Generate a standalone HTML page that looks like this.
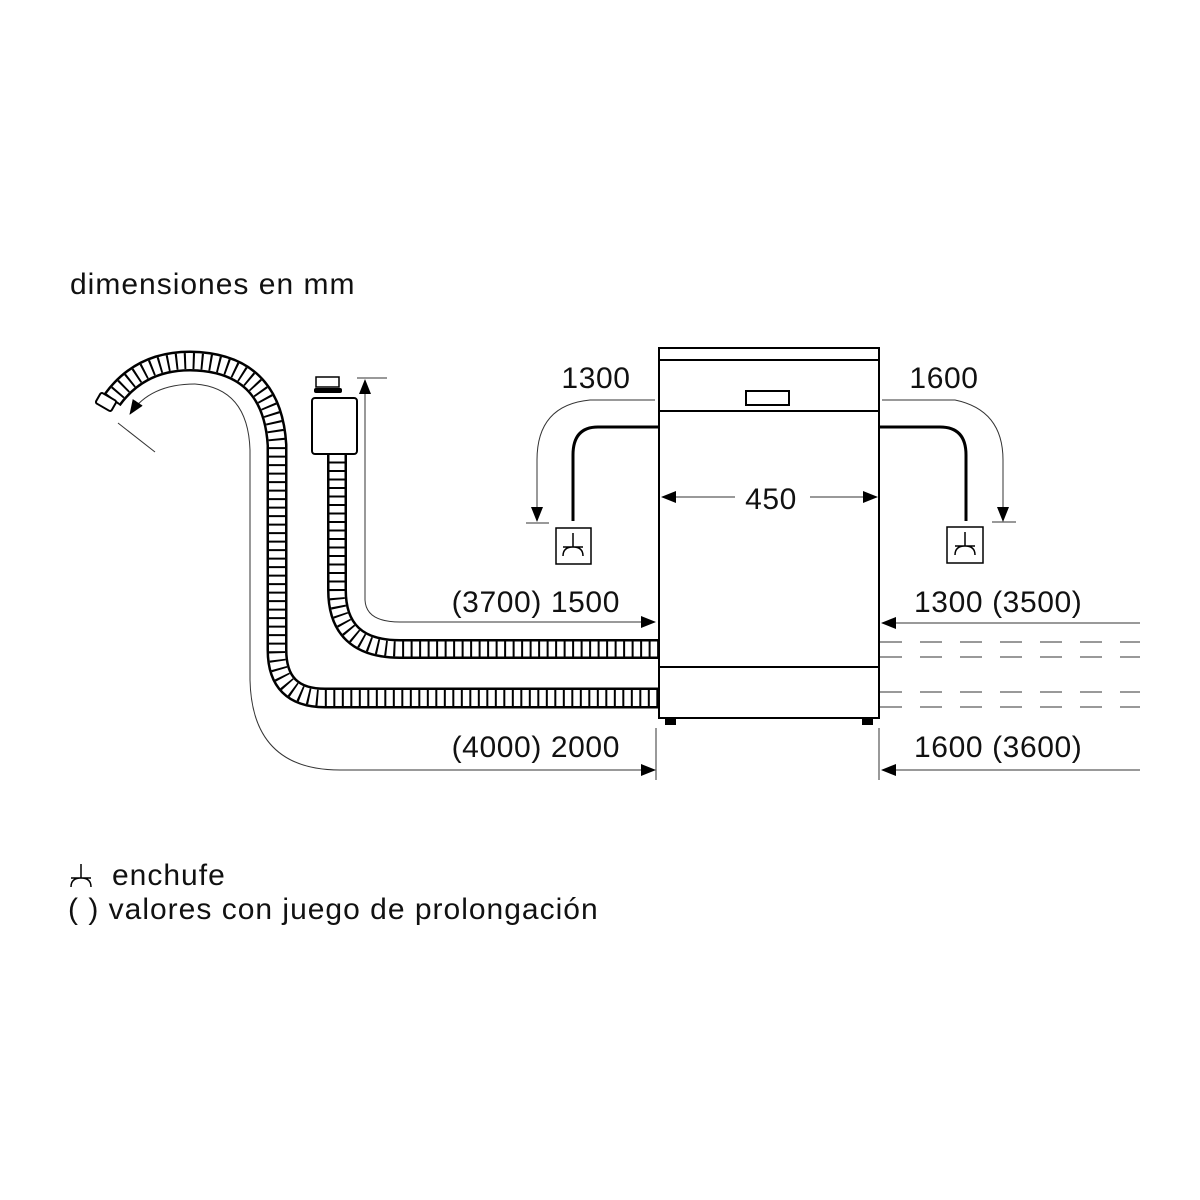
<!DOCTYPE html>
<html><head><style>body{margin:0;background:#fff}svg{display:block}text{font-family:"Liberation Sans",sans-serif;fill:#111;letter-spacing:0.6px}</style></head>
<body>
<svg width="1200" height="1200" viewBox="0 0 1200 1200" xmlns="http://www.w3.org/2000/svg">
<defs>
<marker id="a" markerWidth="15" markerHeight="12" refX="14" refY="6" orient="auto" markerUnits="userSpaceOnUse"><path d="M0,0 L15,6 L0,12 Z" fill="#000"/></marker>
</defs>
<text x="70" y="294" font-size="30" style="letter-spacing:1px">dimensiones en mm</text>
<!-- hoses -->
<g fill="none">
<path d="M112,400 Q140,361 190,361 Q272,362 277,445 L277,650 Q277,698 325,698 L659,698" stroke="#000" stroke-width="21"/>
<path d="M112,400 Q140,361 190,361 Q272,362 277,445 L277,650 Q277,698 325,698 L659,698" stroke="#fff" stroke-width="16"/>
<path d="M112,400 Q140,361 190,361 Q272,362 277,445 L277,650 Q277,698 325,698 L659,698" stroke="#000" stroke-width="16" stroke-dasharray="2 6.5"/>
<path d="M337,453 L337,590 Q337,649 400,649 L659,649" stroke="#000" stroke-width="20"/>
<path d="M337,453 L337,590 Q337,649 400,649 L659,649" stroke="#fff" stroke-width="15"/>
<path d="M337,453 L337,590 Q337,649 400,649 L659,649" stroke="#000" stroke-width="15" stroke-dasharray="2 6.5"/>
</g>
<!-- tap end -->
<rect x="97" y="396" width="18" height="12" rx="2" transform="rotate(30 106 402)" fill="#fff" stroke="#000" stroke-width="2"/>
<!-- valve -->
<rect x="316" y="377" width="23" height="10" fill="#fff" stroke="#000" stroke-width="1.5"/>
<rect x="314" y="388" width="28" height="5" rx="2" fill="#000"/>
<rect x="312" y="398" width="45" height="56" rx="3" fill="#fff" stroke="#000" stroke-width="2"/>
<!-- appliance -->
<rect x="659" y="348" width="220" height="370" fill="#fff" stroke="#000" stroke-width="2"/>
<line x1="659" y1="360" x2="879" y2="360" stroke="#000" stroke-width="2"/>
<line x1="659" y1="411" x2="879" y2="411" stroke="#000" stroke-width="2"/>
<line x1="659" y1="667" x2="879" y2="667" stroke="#000" stroke-width="2"/>
<rect x="746" y="391" width="43" height="14" fill="none" stroke="#000" stroke-width="2"/>
<rect x="665" y="718" width="11" height="7" fill="#000"/>
<rect x="862" y="718" width="11" height="7" fill="#000"/>
<!-- thin dims -->
<g fill="none" stroke="#333" stroke-width="1">
<path d="M195,384 Q150,384 130,414" marker-end="url(#a)"/>
<path d="M195,384 Q248,388 250,450 L250,680 Q252,770 340,770 L655,770" marker-end="url(#a)"/>
<line x1="118" y1="423" x2="155" y2="452"/>
<path d="M365,600 L365,380" marker-end="url(#a)"/>
<line x1="357" y1="378" x2="387" y2="378"/>
<path d="M365,600 Q366,622 400,622 L655,622" marker-end="url(#a)"/>
<line x1="656" y1="728" x2="656" y2="780"/>
<line x1="879" y1="728" x2="879" y2="780"/>
<path d="M1140,623 L882,623" marker-end="url(#a)"/>
<path d="M1140,770 L882,770" marker-end="url(#a)"/>
<path d="M655,400 L590,400 Q537,405 537,460 L537,521" marker-end="url(#a)"/>
<line x1="526" y1="523" x2="549" y2="523"/>
<path d="M882,400 L955,400 Q1003,410 1003,460 L1003,521" marker-end="url(#a)"/>
<line x1="992" y1="522" x2="1016" y2="522"/>
<path d="M735,497 L662,497" marker-end="url(#a)"/>
<path d="M810,497 L877,497" marker-end="url(#a)"/>
</g>
<g stroke="#333" stroke-width="1" stroke-dasharray="22 18">
<line x1="880" y1="642" x2="1140" y2="642"/>
<line x1="880" y1="657" x2="1140" y2="657"/>
<line x1="880" y1="692" x2="1140" y2="692"/>
<line x1="880" y1="707" x2="1140" y2="707"/>
</g>
<!-- cables -->
<path d="M659,427 L598,427 Q573,427 573,455 L573,521" fill="none" stroke="#000" stroke-width="3"/>
<path d="M879,427 L940,427 Q966,427 966,455 L966,521" fill="none" stroke="#000" stroke-width="3"/>
<g fill="none" stroke="#000" stroke-width="1.5">
<rect x="556" y="528" width="35" height="36"/>
<path d="M573,533 L573,547 M563,547 L583,547 M563,556 Q563,547 573,547 Q583,547 583,556"/>
<rect x="947" y="527" width="36" height="36"/>
<path d="M965,532 L965,546 M955,546 L975,546 M955,555 Q955,546 965,546 Q975,546 975,555"/>
</g>
<g font-size="30">
<text x="596" y="388" text-anchor="middle">1300</text>
<text x="944" y="388" text-anchor="middle">1600</text>
<text x="771" y="509" text-anchor="middle">450</text>
<text x="620" y="612" text-anchor="end">(3700) 1500</text>
<text x="914" y="612">1300 (3500)</text>
<text x="620" y="757" text-anchor="end">(4000) 2000</text>
<text x="914" y="757">1600 (3600)</text>
<text x="112" y="885" style="letter-spacing:1px">enchufe</text>
<text x="68" y="919" style="letter-spacing:1px">( )  valores con juego de prolongación</text>
</g>
<path d="M81,864 L81,878 M71,878 L91,878 M71,887 Q71,878 81,878 Q91,878 91,887" fill="none" stroke="#000" stroke-width="1.5"/>
</svg>
</body></html>
